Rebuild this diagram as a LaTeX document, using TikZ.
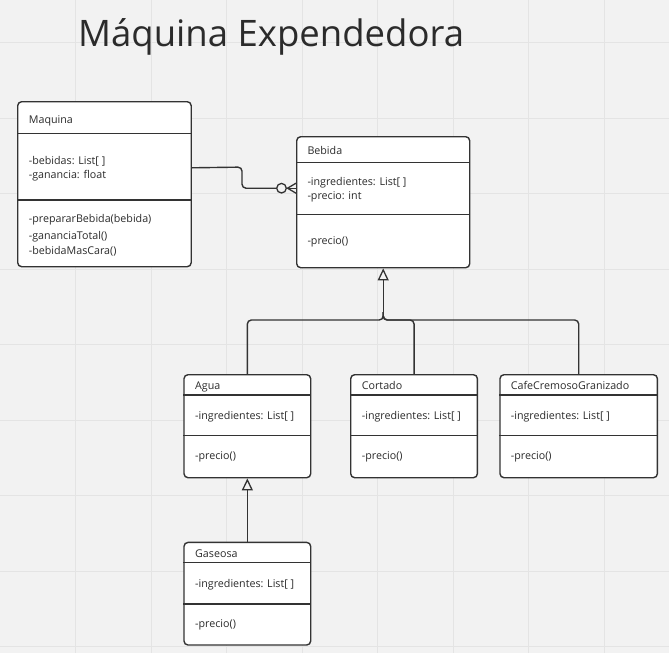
\documentclass[tikz,border=0pt]{standalone}
\usepackage{fontspec}
\setmainfont{Open Sans}
\usetikzlibrary{arrows.meta,calc}
\definecolor{bgc}{HTML}{F2F2F2}
\definecolor{gridc}{HTML}{E4E4E4}
\definecolor{linec}{HTML}{333333}
\definecolor{txtc}{HTML}{2B2B2B}
\tikzset{
  classbox/.style={draw=linec, line width=1.4pt, fill=white, rounded corners=4pt,
    anchor=north west, inner sep=0pt},
  divider/.style={draw=linec, line width=1.4pt},
  lbl/.style={anchor=base west, inner sep=0pt, text=txtc, font=\fontsize{10.7}{12}\selectfont},
  conn/.style={draw=linec, line width=1.4pt, rounded corners=4pt},
  inh/.style={conn, -{Triangle[open, length=12pt, width=11pt, line width=1.3pt]}},
}
\begin{document}
\begin{tikzpicture}[x=1pt, y=-1pt]
\useasboundingbox (0,0) rectangle (669,653);
\fill[bgc] (0,0) rectangle (669,653);
\foreach \k in {1,...,8} {
  \draw[gridc, line width=1pt] ({75.5*\k},0) -- ({75.5*\k},653);
}
\foreach \k in {0,...,8} {
  \draw[gridc, line width=1pt] (0,{42.5+75.5*\k}) -- (669,{42.5+75.5*\k});
}

% title
\node[anchor=base west, inner sep=0pt, text=txtc, font=\fontsize{36.5}{40}\selectfont] (title) at (78,46.7) {Máquina Expendedora};

% Maquina
\node[classbox, minimum width=173.5pt, minimum height=165pt] (maquina) at (17,101) {};
\draw[divider] (maquina.west |- 0,133.3) -- (maquina.east |- 0,133.3);
\draw[divider] (maquina.west |- 0,200) -- (maquina.east |- 0,200);
\node[lbl] (mq0) at (28.7,123.1) {Maquina};
\node[lbl] (mq1) at (28.7,164.5) {-bebidas: List[ ]};
\node[lbl] (mq2) at (28.7,178.8) {-ganancia: float};
\node[lbl] (mq3) at (28.7,222.8) {-prepararBebida(bebida)};
\node[lbl] (mq4) at (28.7,239.5) {-gananciaTotal()};
\node[lbl] (mq5) at (28.7,254.5) {-bebidaMasCara()};

% Bebida
\node[classbox, minimum width=173pt, minimum height=131pt] (bebida) at (296,136) {};
\draw[divider] (bebida.west |- 0,162.3) -- (bebida.east |- 0,162.3);
\draw[divider] (bebida.west |- 0,214.3) -- (bebida.east |- 0,214.3);
\node[lbl] (bb0) at (307.3,154.8) {Bebida};
\node[lbl] (bb1) at (307.3,185.5) {-ingredientes: List[ ]};
\node[lbl] (bb2) at (307.3,199.8) {-precio: int};
\node[lbl] (bb3) at (307.3,244.8) {-precio()};

% Agua
\node[classbox, minimum width=126.7pt, minimum height=103pt] (agua) at (183.3,374) {};
\draw[divider] (agua.west |- 0,395) -- (agua.east |- 0,395);
\draw[divider] (agua.west |- 0,435.7) -- (agua.east |- 0,435.7);
\node[lbl] (ag0) at (195,389.8) {Agua};
\node[lbl] (ag1) at (195,419.1) {-ingredientes: List[ ]};
\node[lbl] (ag2) at (195,459.8) {-precio()};

% Cortado
\node[classbox, minimum width=126.7pt, minimum height=103pt] (cortado) at (350,374) {};
\draw[divider] (cortado.west |- 0,395) -- (cortado.east |- 0,395);
\draw[divider] (cortado.west |- 0,435.7) -- (cortado.east |- 0,435.7);
\node[lbl] (co0) at (361.7,389.8) {Cortado};
\node[lbl] (co1) at (361.7,419.1) {-ingredientes: List[ ]};
\node[lbl] (co2) at (361.7,459.8) {-precio()};

% CafeCremosoGranizado
\node[classbox, minimum width=157.4pt, minimum height=103pt] (cafe) at (499.3,374) {};
\draw[divider] (cafe.west |- 0,395) -- (cafe.east |- 0,395);
\draw[divider] (cafe.west |- 0,435.7) -- (cafe.east |- 0,435.7);
\node[lbl] (cf0) at (510.7,389.8) {CafeCremosoGranizado};
\node[lbl] (cf1) at (510.7,419.1) {-ingredientes: List[ ]};
\node[lbl] (cf2) at (510.7,459.8) {-precio()};

% Gaseosa
\node[classbox, minimum width=126.7pt, minimum height=102.6pt] (gaseosa) at (183.3,541.7) {};
\draw[divider] (gaseosa.west |- 0,562.7) -- (gaseosa.east |- 0,562.7);
\draw[divider] (gaseosa.west |- 0,604) -- (gaseosa.east |- 0,604);
\node[lbl] (gs0) at (195,557.1) {Gaseosa};
\node[lbl] (gs1) at (195,587.1) {-ingredientes: List[ ]};
\node[lbl] (gs2) at (195,627.8) {-precio()};

% Maquina -> Bebida (zero or many)
\node[circle, draw=linec, line width=1.3pt, minimum size=9.6pt, inner sep=0pt] (zero) at (281.5,188.2) {};
\coordinate (crowtip) at (287.5,188.2);
\draw[conn] ([yshift=16.4pt]maquina.east) -- (242,167.1) -- (242,188.2) -- (zero.west);
\draw[linec, line width=1.3pt] (zero.east) -- (bebida.west |- zero.east);
\draw[linec, line width=1.3pt] (crowtip) -- ([yshift=5pt]bebida.west |- zero.east);
\draw[linec, line width=1.3pt] (crowtip) -- ([yshift=-5pt]bebida.west |- zero.east);

% Inheritance
\coordinate (joint) at (bebida.south |- 0,320);
\coordinate (jointup) at (bebida.south |- 0,312);
\draw[conn] (agua.north) |- (joint) -- (jointup);
\draw[conn] (cortado.north) |- (joint) -- (jointup);
\draw[conn] (cafe.north) |- (joint) -- (jointup);
\draw[inh] (jointup) -- (bebida.south);
\draw[inh] (gaseosa.north) -- (agua.south);
\end{tikzpicture}
\end{document}
